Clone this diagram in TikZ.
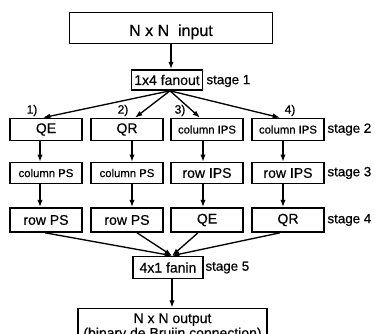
\documentclass[tikz,border=0pt]{standalone}
\usepackage{fontspec}
\setmainfont{Liberation Sans}[FakeBold=0.5]
\usetikzlibrary{arrows.meta,calc}

\tikzset{every picture/.style={line width=0.75pt}}
\tikzset{
  blk/.style={draw, line width=1.2pt, inner sep=0pt, align=center},
  lbl/.style={inner sep=0pt, font=\fontsize{10}{11}\selectfont},
  arr/.style={-{Latex[length=5.5pt,width=4pt]}, line width=1pt},
}

\begin{document}
\begin{tikzpicture}[x=0.75pt,y=0.75pt,yscale=-1,xscale=1]
\path[use as bounding box] (0,0) rectangle (375,334);

%Shape: input
\node[blk, minimum width=152pt, minimum height=23.5pt, text height=12pt, text depth=0pt, font=\fontsize{12}{13}\selectfont] (in) at (171,28) {N x N\ \ input};
%Shape: fanout
\node[blk, minimum width=53pt, minimum height=15pt, font=\fontsize{10.5}{11}\selectfont] (fo) at (167,80) {1x4 fanout};

%Shape: stage 2 row
\node[blk, minimum width=54pt, minimum height=16.5pt, font=\fontsize{10.5}{11}\selectfont] (a1) at (46,129.5) {QE};
\node[blk, minimum width=54pt, minimum height=16.5pt, font=\fontsize{10.5}{11}\selectfont] (a2) at (127,129.5) {QR};
\node[blk, minimum width=54pt, minimum height=16.5pt, font=\fontsize{8.5}{9}\selectfont] (a3) at (207,129.5) {column IPS};
\node[blk, minimum width=54pt, minimum height=16.5pt, font=\fontsize{8.5}{9}\selectfont] (a4) at (288,129.5) {column IPS};

%Shape: stage 3 row
\node[blk, minimum width=54pt, minimum height=15.5pt, font=\fontsize{8.5}{9}\selectfont] (b1) at (46,173) {column PS};
\node[blk, minimum width=54pt, minimum height=15.5pt, font=\fontsize{8.5}{9}\selectfont] (b2) at (127,173) {column PS};
\node[blk, minimum width=54pt, minimum height=15.5pt, font=\fontsize{10.5}{11}\selectfont] (b3) at (207,173) {row IPS};
\node[blk, minimum width=54pt, minimum height=15.5pt, font=\fontsize{10.5}{11}\selectfont] (b4) at (288,173) {row IPS};

%Shape: stage 4 row
\node[blk, minimum width=54pt, minimum height=18pt, font=\fontsize{10.5}{11}\selectfont] (c1) at (46,220) {row PS};
\node[blk, minimum width=54pt, minimum height=18pt, font=\fontsize{10.5}{11}\selectfont] (c2) at (127,220) {row PS};
\node[blk, minimum width=54pt, minimum height=18pt, font=\fontsize{10.5}{11}\selectfont] (c3) at (207,220) {QE};
\node[blk, minimum width=54pt, minimum height=18pt, font=\fontsize{10.5}{11}\selectfont] (c4) at (288,220) {QR};

%Shape: fanin
\node[blk, minimum width=52.5pt, minimum height=16.5pt, font=\fontsize{10.5}{11}\selectfont] (fi) at (168,267.5) {4x1 fanin};
%Shape: output
\node[blk, minimum width=141.75pt, minimum height=27.75pt, font=\fontsize{10.5}{11}\selectfont] (out) at (172.5,327) {N x N output\\(binary de Bruijn connection)};

% Text Node
\node[lbl, anchor=west] (s1) at (206,81) {stage 1};
\node[lbl, anchor=west] (s2) at (327,129.5) {stage 2};
\node[lbl, anchor=west] (s3) at (327,173) {stage 3};
\node[lbl, anchor=west] (s4) at (327,220) {stage 4};
\node[lbl, anchor=west] (s5) at (205,267.5) {stage 5};
% Text Node
\node[lbl, font=\fontsize{9}{10}\selectfont] (n1) at (32,110.5) {1)};
\node[lbl, font=\fontsize{9}{10}\selectfont] (n2) at (123,110.5) {2)};
\node[lbl, font=\fontsize{9}{10}\selectfont] (n3) at (180,110.5) {3)};
\node[lbl, font=\fontsize{9}{10}\selectfont] (n4) at (290,110.5) {4)};

%Arrows
\draw[arr] (in.south) -- (in.south |- fo.north);
\coordinate (fs) at ($(fo.south)+(3,0)$);
\draw[arr] (fs) -- ($(a1.north)+(-3,0)$);
\draw[arr] (fs) -- ($(a2.north)+(8,0)$);
\draw[arr] (fs) -- ($(a3.north)+(-7,0)$);
\draw[arr] (fs) -- ($(a4.north)+(-8,0)$);

\draw[arr] ($(a1.south)+(-6,0)$) -- ($(b1.north)+(-6,0)$);
\draw[arr] ($(a2.south)+(5,0)$) -- ($(b2.north)+(5,0)$);
\draw[arr] ($(a3.south)+(-4,0)$) -- ($(b3.north)+(-4,0)$);
\draw[arr] ($(a4.south)+(-5,0)$) -- ($(b4.north)+(-5,0)$);

\draw[arr] ($(b1.south)+(-6,0)$) -- ($(c1.north)+(-6,0)$);
\draw[arr] ($(b2.south)+(5,0)$) -- ($(c2.north)+(5,0)$);
\draw[arr] ($(b3.south)+(-4,0)$) -- ($(c3.north)+(-4,0)$);
\draw[arr] ($(b4.south)+(-5,0)$) -- ($(c4.north)+(-5,0)$);

\coordinate (ft) at ($(fi.north)+(4,0)$);
\draw[arr] ($(c1.south)+(-1,0)$) -- (ft);
\draw[arr] ($(c2.south)+(10,0)$) -- (ft);
\draw[arr] ($(c3.south)+(-9,0)$) -- (ft);
\draw[arr] ($(c4.south)+(-8,0)$) -- (ft);

\coordinate (fb) at ($(fi.south)+(4,0)$);
\draw[arr] (fb) -- (fb |- out.north);

\end{tikzpicture}
\end{document}
